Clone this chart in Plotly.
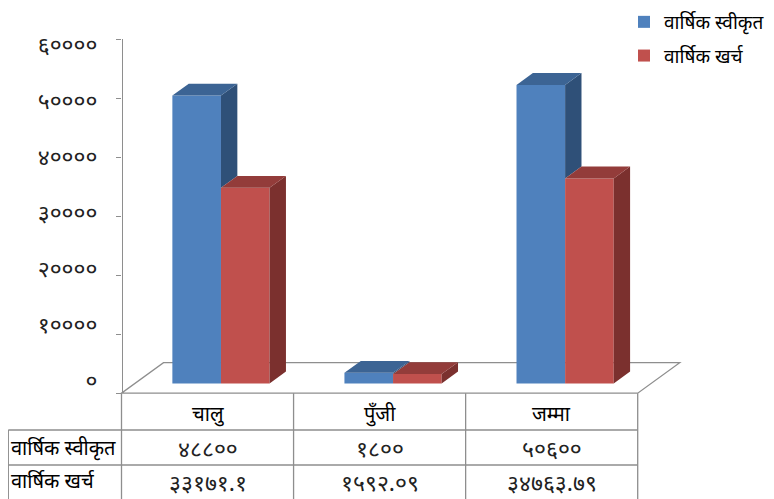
import plotly.graph_objects as go

# ---------------- data ----------------
categories = ["चालु", "पुँजी", "जम्मा"]
series_names = ["वार्षिक स्वीकृत", "वार्षिक खर्च"]
approved = [48800, 1800, 50600]
spent = [33171.1, 1592.09, 34763.79]
y_ticks = [0, 10000, 20000, 30000, 40000, 50000, 60000]

DEV = str.maketrans("0123456789", "०१२३४५६७८९")


def dev(v):
    return str(v).translate(DEV)


y_ticktext = [dev(t) for t in y_ticks]

# ---------------- geometry (page pixels -> data units) ----------------
W, H = 774, 499
OFF = 8                # default body margin of the html page


def fx(p):             # page x pixel -> figure pixel
    return p - OFF


def fy(p):             # page y pixel -> figure pixel
    return p - OFF


PX0 = fx(121.5)        # pixel of x = -0.5 (front-left floor corner)
PX1 = fx(637.7)        # pixel of x = 2.5 (front-right floor corner)
PXU = (PX1 - PX0) / 3  # pixels per category unit
PY0 = fy(393.2)        # pixel of value 0 on front plane
PYT = fy(39.3)         # pixel of value 60000
PYU = (PY0 - PYT) / 60000.0

xr = [-0.5 - PX0 / PXU, -0.5 + (W - PX0) / PXU]
yr = [-(H - PY0) / PYU, PY0 / PYU]

DDX = 42 / PXU    # full floor depth (x)
DDY = 30.5 / PYU  # full floor depth (y)
F0, F1 = 0.32, 0.71
BW = 48.6 / PXU
BASE = F0 * DDY
SDX = (F1 - F0) * DDX
SDY = (F1 - F0) * DDY

front_cols = ["#4F81BD", "#C0504D"]
top_cols = ["#3C6494", "#933C3A"]
side_cols = ["#2F5078", "#7B302E"]

series = [approved, spent]
offsets = [F0 * DDX - BW, F0 * DDX]

fig = go.Figure()

# front faces (bars)
for s, vals in enumerate(series):
    fig.add_trace(go.Bar(
        x=list(range(len(categories))), y=vals, base=BASE, width=BW,
        offset=offsets[s], name=series_names[s],
        marker=dict(color=front_cols[s], line=dict(width=0)),
        legendgroup=str(s), hoverinfo="skip",
    ))

# side + top faces
for s, vals in enumerate(series):
    sx, sy, tx, ty = [], [], [], []
    for i, v in enumerate(vals):
        xl = i + offsets[s]
        xrt = xl + BW
        yt = BASE + v
        ylow = BASE
        if s == 0:
            other = spent[i]
            ylow = None if other >= v else BASE + other
        if ylow is not None:
            sx += [xrt, xrt + SDX, xrt + SDX, xrt, xrt, None]
            sy += [ylow, ylow + SDY, yt + SDY, yt, ylow, None]
        tx += [xl, xrt, xrt + SDX, xl + SDX, xl, None]
        ty += [yt, yt, yt + SDY, yt + SDY, yt, None]
    fig.add_trace(go.Scatter(x=sx, y=sy, mode="lines", fill="toself",
                             fillcolor=side_cols[s], line=dict(width=0),
                             showlegend=False, hoverinfo="skip"))
    fig.add_trace(go.Scatter(x=tx, y=ty, mode="lines", fill="toself",
                             fillcolor=top_cols[s], line=dict(width=0),
                             showlegend=False, hoverinfo="skip"))

# empty traces so that the value axis (y2) and its labels (y3) are drawn
fig.add_trace(go.Scatter(x=[None], y=[None], xaxis="x", yaxis="y2",
                         showlegend=False, hoverinfo="skip"))
fig.add_trace(go.Scatter(x=[None], y=[None], xaxis="x", yaxis="y3",
                         showlegend=False, hoverinfo="skip"))

GRID = "#8E8E8E"
n = len(categories)
shapes = []
x_left, x_right = -0.5, n - 0.5
shapes.append(dict(
    type="path", xref="x", yref="y", layer="below",
    path=(f"M{x_left},0 L{x_right},0 L{x_right + DDX},{DDY} "
          f"L{x_left + DDX},{DDY} Z"),
    line=dict(color=GRID, width=1.3), fillcolor="white"))


def py(p):   # page y -> paper fraction
    return 1 - fy(p) / H


def px(p):   # page x -> paper fraction
    return fx(p) / W


ROW1, ROW2 = 430, 465
LEFT = 8.3
for yy in (ROW1, ROW2):
    shapes.append(dict(type="line", xref="paper", yref="paper",
                       x0=px(LEFT), x1=px(637.7), y0=py(yy), y1=py(yy),
                       line=dict(color=GRID, width=1.3)))
shapes.append(dict(type="line", xref="paper", yref="paper",
                   x0=px(LEFT), x1=px(LEFT), y0=py(ROW1), y1=py(510),
                   line=dict(color=GRID, width=1.3)))
for k in range(n + 1):
    xb = k - 0.5
    shapes.append(dict(type="line", xref="x", yref="paper",
                       x0=xb, x1=xb, y0=py(393.2), y1=py(510),
                       line=dict(color=GRID, width=1.3)))

FONT = "Noto Sans, DejaVu Sans, sans-serif"
TS = 20
NS = 23
ann = []
for i, c in enumerate(categories):
    ann.append(dict(x=i, y=py(413), xref="x", yref="paper", text=c,
                    xanchor="center", yanchor="middle", showarrow=False,
                    font=dict(size=TS, color="black", family=FONT)))
    ann.append(dict(x=i, y=py(448), xref="x", yref="paper", text=dev(approved[i]),
                    xanchor="center", yanchor="middle", showarrow=False,
                    font=dict(size=NS, color="#222", family=FONT)))
    ann.append(dict(x=i, y=py(482), xref="x", yref="paper", text=dev(spent[i]),
                    xanchor="center", yanchor="middle", showarrow=False,
                    font=dict(size=NS, color="#222", family=FONT)))
for r, nm in enumerate(series_names):
    ann.append(dict(x=px(9), y=py([447, 480][r]), xref="paper", yref="paper",
                    xanchor="left", yanchor="middle", text=nm, showarrow=False,
                    font=dict(size=TS, color="black", family=FONT)))

dom = [(H - PY0) / H, (H - PYT) / H]
lab_lo = -2275
lab_hi = 61020

fig.update_layout(
    width=W, height=H,
    margin=dict(l=0, r=0, t=0, b=0, autoexpand=False),
    paper_bgcolor="white", plot_bgcolor="rgba(0,0,0,0)",
    barmode="overlay",
    showlegend=True,
    legend=dict(x=px(624), y=1 + 5 / H, xanchor="left", yanchor="top",
                font=dict(size=19, color="black", family=FONT),
                bgcolor="rgba(0,0,0,0)", tracegroupgap=6, itemwidth=30),
    xaxis=dict(range=xr, visible=False, fixedrange=True),
    yaxis=dict(range=yr, visible=False, fixedrange=True),
    yaxis2=dict(anchor="free", position=PX0 / W, domain=dom, range=[0, 60000],
                showline=True, linecolor=GRID, linewidth=1.3,
                ticks="outside", ticklen=5, tickcolor=GRID, tickwidth=1.3,
                tickvals=y_ticks, showticklabels=False, showgrid=False,
                zeroline=False, fixedrange=True),
    yaxis3=dict(anchor="free", position=PX0 / W, domain=dom,
                range=[lab_lo, lab_hi], showline=False, ticks="",
                tickvals=y_ticks, ticktext=y_ticktext, ticklabelstandoff=24,
                tickfont=dict(size=23, color="#222", family=FONT),
                showgrid=False, zeroline=False, fixedrange=True),
    shapes=shapes,
    annotations=ann,
)

fig.write_html("out.html")
